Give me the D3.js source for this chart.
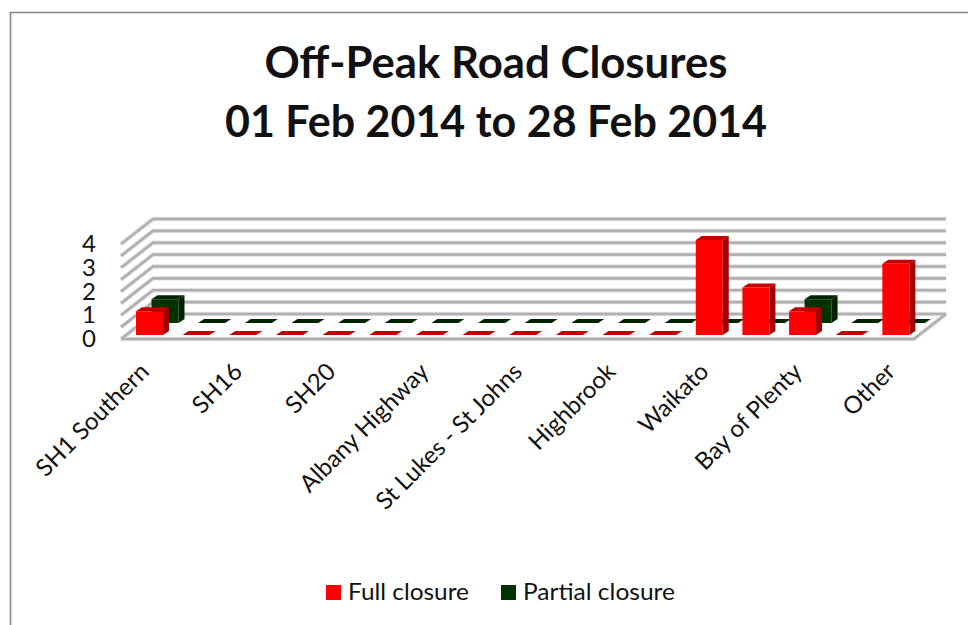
<!DOCTYPE html>
<html>
<head>
<meta charset="utf-8">
<script src="https://cdn.jsdelivr.net/npm/d3@7"></script>
<style>
    body { margin: 0; background: #fff; }
    text { font-family: Lato, "Open Sans", sans-serif; fill: #111; }
</style>
</head>
<body>
<div id="chart"></div>
<script>
// every second category label is hidden in the original, so those names are blank
const categories = ["SH1 Southern", "", "SH16", "", "SH20", "", "Albany Highway", "", "St Lukes - St Johns", "", "Highbrook", "", "Waikato", "", "Bay of Plenty", "", "Other"];
const fullClosure = [1, 0, 0, 0, 0, 0, 0, 0, 0, 0, 0, 0, 4, 2, 1, 0, 3];
const partialClosure = [1, 0, 0, 0, 0, 0, 0, 0, 0, 0, 0, 0, 0, 0, 1, 0, 0];
const yTicks = [0, 1, 2, 3, 4];
const gridValues = [0.5, 1, 1.5, 2, 2.5, 3, 3.5, 4];
const titleLines = ["Off-Peak Road Closures", "01 Feb 2014 to 28 Feb 2014"];
const legendNames = ["Full closure", "Partial closure"];

const width = 968, height = 625;
const left = 121, right = 914, floorY = 339, topY = 244;
const depthX = 32, depthY = 25;   // wall depth of the 3D box
const barW = 27, barDX = 6, barDY = 4;   // bar depth

const svg = d3.select("#chart").append("svg")
    .attr("width", width)
    .attr("height", height)
    .style("display", "block");

// chart frame, the right side is cropped off in the original
svg.append("path")
    .attr("d", "M10.5,625V12.5H968")
    .attr("fill", "none")
    .attr("stroke", "#848484")
    .attr("stroke-width", 1.6);

// scales
const x = d3.scaleBand().domain(d3.range(categories.length)).range([left, right]);
const y = d3.scaleLinear().domain([0, 4]).range([floorY, topY]);

// title
svg.selectAll(".title").data(titleLines).enter().append("text")
    .attr("class", "title")
    .attr("x", 496)
    .attr("y", (d, i) => 78 + i * 59)
    .attr("font-size", 43)
    .attr("text-anchor", "middle")
    .attr("font-weight", "bold")
    .attr("textLength", (d, i) => i == 0 ? 463 : 542)
    .attr("lengthAdjust", "spacingAndGlyphs")
    .text(d => d);

// wall and floor lines, drawn twice to get the soft edge of the original
let wallPath = d => "M" + left + "," + y(d) + "l" + depthX + "," + (-depthY) + "H" + (right + depthX);
let floorPath = "M" + left + "," + y(0) + "H" + right + "l" + depthX + "," + (-depthY) + wallPath(0);

[["#e2e2e2", 4.4], ["#b0b0b0", 2.6]].forEach(function (s) {
    let grid = svg.append("g")
        .attr("fill", "none")
        .attr("stroke", s[0])
        .attr("stroke-width", s[1]);

    grid.selectAll("path").data(gridValues).enter().append("path")
        .attr("d", wallPath);

    grid.append("path")
        .attr("d", floorPath);
});

// draws one row of 3D bars, offset is how far back in the box the row stands
function drawBars(values, offX, offY, front, top, side) {
    let row = svg.append("g");
    let bars = row.selectAll("g").data(values).enter().append("g")
        .attr("transform", (d, i) => "translate(" + (x(i) + 10 + offX) + "," + (-offY) + ")");

    bars.append("path")
        .attr("fill", side)
        .attr("d", d => "M" + barW + "," + y(d) + "l" + barDX + "," + (-barDY) + "V" + (y(0) - barDY) + "l" + (-barDX) + "," + barDY + "Z");

    bars.append("path")
        .attr("fill", top)
        .attr("d", d => "M0," + y(d) + "l" + barDX + "," + (-barDY) + "h" + barW + "l" + (-barDX) + "," + barDY + "Z");

    bars.append("rect")
        .attr("fill", front)
        .attr("x", 0)
        .attr("y", d => y(d))
        .attr("width", barW)
        .attr("height", d => y(0) - y(d));
}

drawBars(partialClosure, 20.5, 16, "#003300", "#002400", "#002000");
drawBars(fullClosure, 5, 4, "#ff0000", "#c00000", "#a00000");

// y axis
const yAxis = svg.append("g")
    .attr("transform", "translate(" + left + ",0)")
    .call(d3.axisLeft(y).tickValues(yTicks).tickSize(0).tickPadding(25).tickFormat(d3.format("d")));
yAxis.select(".domain").remove();
yAxis.selectAll("text").attr("font-size", 24).style("font-family", "Lato, sans-serif").attr("fill", "#111");

// x axis, rotated labels
const xAxis = svg.append("g")
    .attr("transform", "translate(0," + floorY + ")")
    .call(d3.axisBottom(x).tickSize(0).tickFormat(i => categories[i]));
xAxis.select(".domain").remove();
xAxis.selectAll("text")
    .attr("font-size", 24)
    .style("font-family", "Lato, sans-serif")
    .attr("fill", "#111")
    .attr("text-anchor", "end")
    .attr("dy", 0)
    .attr("transform", "translate(4,32) rotate(-45)");

// legend
const legend = svg.append("g");
const legendColors = ["#ff0000", "#003300"];
const legendX = [326, 501];
legend.selectAll("rect").data(legendNames).enter().append("rect")
    .attr("x", (d, i) => legendX[i])
    .attr("y", 585)
    .attr("width", 15)
    .attr("height", 15)
    .attr("fill", (d, i) => legendColors[i]);
legend.selectAll("text").data(legendNames).enter().append("text")
    .attr("x", (d, i) => legendX[i] + 22)
    .attr("y", 600)
    .attr("font-size", 24)
    .attr("textLength", (d, i) => i == 0 ? 121 : 152)
    .attr("lengthAdjust", "spacingAndGlyphs")
    .text(d => d);
</script>
</body>
</html>
